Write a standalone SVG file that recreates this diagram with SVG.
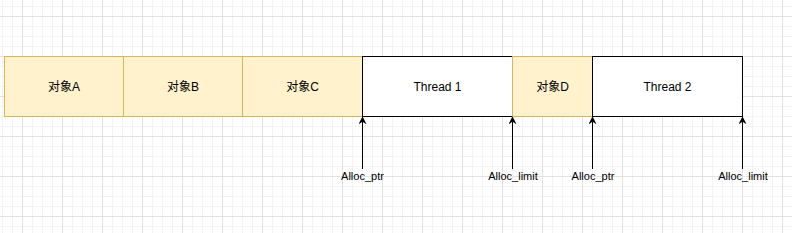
<svg xmlns="http://www.w3.org/2000/svg" width="792" height="233" viewBox="0 0 792 233">
<defs>
<pattern id="minor" x="2" y="6" width="10" height="10" patternUnits="userSpaceOnUse">
<path d="M0.5 0V10M0 0.5H10" fill="none" stroke="#f3f3f3" stroke-width="1"/>
</pattern>
<pattern id="major" x="22" y="16" width="40" height="40" patternUnits="userSpaceOnUse">
<path d="M0.5 0V40M0 0.5H40" fill="none" stroke="#e2e2e2" stroke-width="1"/>
</pattern>
<marker id="arr" viewBox="0 0 10 10" refX="9" refY="5" markerWidth="8" markerHeight="8" markerUnits="userSpaceOnUse" orient="auto">
<path d="M0 0L10 5L0 10L3 5Z" fill="#000"/>
</marker>
<style>
.obj{fill:#fff2cc;stroke:#d6b656;stroke-width:1}
.thr{fill:#ffffff;stroke:#000000;stroke-width:1}
.t{font-family:"Liberation Sans","Noto Sans CJK SC",Arial,sans-serif;font-size:12px;fill:#000;text-anchor:middle;dominant-baseline:central}
.lbl{font-family:"Liberation Sans","Noto Sans CJK SC",Arial,sans-serif;font-size:11px;fill:#000;text-anchor:middle;dominant-baseline:central}
.con{stroke:#000;stroke-width:1;fill:none}
</style>
</defs>
<rect width="792" height="233" fill="#ffffff"/>
<rect width="792" height="233" fill="url(#minor)"/>
<rect width="792" height="233" fill="url(#major)"/>
<g id="objA"><rect class="obj" x="4.5" y="56.5" width="119" height="60"/><text class="t" x="64" y="86.5">对象A</text></g>
<g id="objB"><rect class="obj" x="123.5" y="56.5" width="119" height="60"/><text class="t" x="183" y="86.5">对象B</text></g>
<g id="objC"><rect class="obj" x="242.5" y="56.5" width="120" height="60"/><text class="t" x="302.5" y="86.5">对象C</text></g>
<g id="thread1"><rect class="thr" x="362.5" y="56.5" width="150" height="60"/><text class="t" x="437.5" y="86.5">Thread 1</text></g>
<g id="objD"><rect class="obj" x="512.5" y="56.5" width="80" height="60"/><text class="t" x="552.5" y="86.5">对象D</text></g>
<g id="thread2"><rect class="thr" x="592.5" y="56.5" width="150" height="60"/><text class="t" x="667.5" y="86.5">Thread 2</text></g>
<g id="connectors">
<line class="con" x1="362.5" y1="169" x2="362.5" y2="117" marker-end="url(#arr)"/>
<line class="con" x1="512.5" y1="169" x2="512.5" y2="117" marker-end="url(#arr)"/>
<line class="con" x1="592.5" y1="169" x2="592.5" y2="117" marker-end="url(#arr)"/>
<line class="con" x1="742.5" y1="169" x2="742.5" y2="117" marker-end="url(#arr)"/>
</g>
<g id="lbl1"><text class="lbl" x="362.5" y="176">Alloc_ptr</text></g>
<g id="lbl2"><text class="lbl" x="513" y="176">Alloc_limit</text></g>
<g id="lbl3"><text class="lbl" x="593" y="176">Alloc_ptr</text></g>
<g id="lbl4"><text class="lbl" x="743" y="176">Alloc_limit</text></g>
</svg>
